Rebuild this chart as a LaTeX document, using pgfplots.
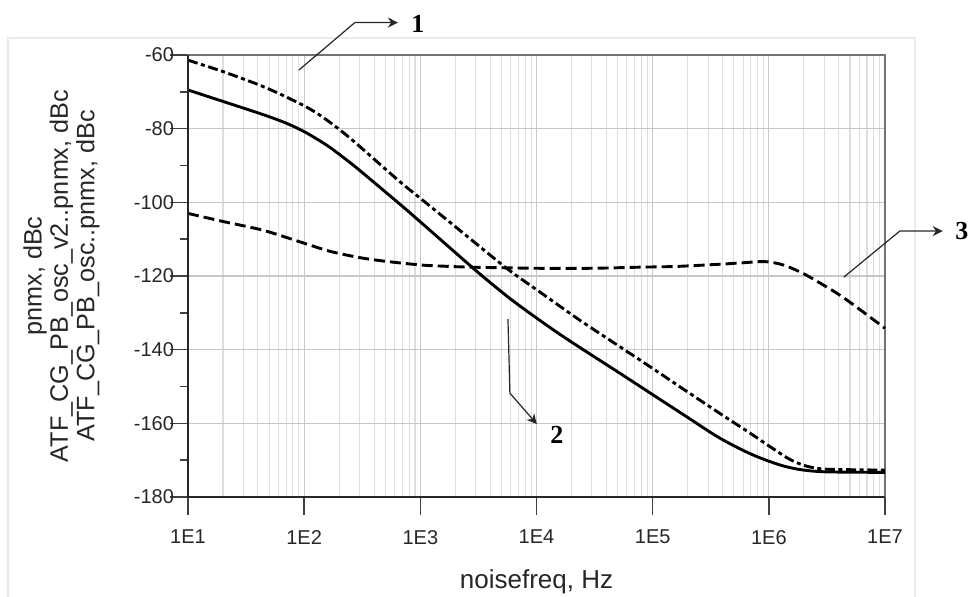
\documentclass[border=0pt]{standalone}
\usepackage{pgfplots}
\pgfplotsset{compat=1.18}
\usepackage{fontspec}
\setmainfont{Liberation Sans}
\newfontfamily\annfont{Liberation Serif}
\usetikzlibrary{arrows.meta}

\pgfplotstableread{
x y
10 -61.4
20 -64.5
40 -68.0
62 -70.6
100 -73.8
130 -75.9
167 -78.3
220 -81.2
300 -84.8
667 -94.4
1000 -98.9
2000 -106.6
5530 -117.9
10000 -123.7
23600 -132.0
52200 -139.2
100000 -145.1
196000 -151.3
400000 -157.8
700000 -162.8
1020000 -166.3
1500000 -169.7
2000000 -171.4
2600000 -172.2
3500000 -172.5
10000000 -172.7
}\curveone

\pgfplotstableread{
x y
10 -69.5
20 -72.6
44.5 -76.2
70 -78.5
100 -80.8
130 -82.9
167 -85.1
230 -88.4
300 -91.3
667 -100.5
1000 -105.3
2760 -117.5
4000 -121.8
5900 -126.1
8000 -129.2
10000 -131.4
15000 -135.3
23600 -139.4
52200 -146.4
101000 -152.3
196000 -158.2
378000 -164.0
733000 -168.6
1420000 -171.8
2750000 -173.1
10000000 -173.3
}\curvetwo

\pgfplotstableread{
x y
10 -103.0
20 -105.2
44.5 -107.6
100 -111.1
167 -113.3
300 -115.0
500 -116.0
1000 -117.0
1500 -117.3
2760 -117.6
10000 -117.9
30000 -117.9
78000 -117.6
160000 -117.4
380000 -116.8
600000 -116.4
930000 -116.1
1330000 -117.0
1970000 -119.3
2930000 -122.4
4500000 -126.1
10000000 -134.2
}\curvethree

\begin{document}
\begin{tikzpicture}
\useasboundingbox (-94pt,-49.5pt) rectangle (392.5pt,248.5pt);
\draw[black!8, line width=0.6pt] (-90pt,-60pt) -- (-90pt,229.5pt) -- (363.5pt,229.5pt) -- (363.5pt,-60pt);
\begin{axis}[
  at={(0pt,0pt)}, anchor=south west,
  scale only axis, width=348.5pt, height=221pt,
  xmode=log, xmin=10, xmax=1e7, ymin=-180, ymax=-60,
  xtick={10,100,1000,10000,100000,1000000,10000000},
  xticklabels={1E1,1E2,1E3,1E4,1E5,1E6,1E7},
  ytick={-180,-160,-140,-120,-100,-80,-60},
  yticklabels={-180,-160,-140,-120,-100,-80,-60},
  minor y tick num=0,
  extra y ticks={-170,-150,-130,-110,-90,-70},
  extra y tick labels={},
  extra y tick style={grid=none, major tick length=4pt},
  xmajorgrids, xminorgrids, ymajorgrids,
  major grid style={draw=black!22, line width=0.6pt},
  minor grid style={draw=black!13, line width=0.55pt},
  tick align=outside, major tick length=9pt, minor tick length=0pt,
  xtick pos=bottom, ytick pos=left,
  tick style={draw=black!75, line width=0.7pt},
  axis line style={draw=black!55, line width=0.8pt},
  ticklabel style={font=\fontsize{10}{12}\selectfont, text=black!85},
  xticklabel style={yshift=-4pt},
  yticklabel style={xshift=5.5pt},
  xlabel={noisefreq, Hz},
  xlabel style={font=\fontsize{13}{15}\selectfont, text=black!85, at={(axis description cs:0.5,-0.163)}, anchor=north, inner sep=0pt},
  ylabel={pnmx, dBc\\ATF\_CG\_PB\_osc\_v2..pnmx, dBc\\ATF\_CG\_PB\_osc..pnmx, dBc},
  ylabel style={align=center, font=\fontsize{12.6}{13.2}\selectfont, text=black!85, at={(axis description cs:-0.1263,0.5)}, anchor=south, inner sep=0pt},
  clip=false,
]
\addplot[black, line width=1.45pt, smooth, tension=0.5, dash pattern=on 5pt off 1.8pt on 2pt off 1.8pt] table[x=x,y=y] {\curveone};
\addplot[black, line width=1.45pt, smooth, tension=0.5] table[x=x,y=y] {\curvetwo};
\addplot[black, line width=1.45pt, smooth, tension=0.5, dash pattern=on 5.5pt off 2.5pt] table[x=x,y=y] {\curvethree};

\draw[black!85, line width=0.9pt] (rel axis cs:0,1) -- (rel axis cs:0,0) -- (rel axis cs:1,0);

\draw[black!85, line width=0.6pt, -{Stealth[length=5pt,width=5pt]}] (axis cs:90,-64.1) -- (axis cs:273,-51.2) -- (axis cs:641,-51.2);
\node[font=\annfont\bfseries\fontsize{13}{13}\selectfont, inner sep=0pt] at (axis cs:953,-51.6) {1};

\draw[black!85, line width=0.6pt, -{Stealth[length=5pt,width=5pt]}] (axis cs:5680,-131.7) -- (axis cs:5900,-151.8) -- (axis cs:10070,-160.2);
\node[font=\annfont\bfseries\fontsize{13}{13}\selectfont, inner sep=0pt] at (axis cs:15000,-163.2) {2};

\draw[black!85, line width=0.6pt, -{Stealth[length=5pt,width=5pt]}] (axis cs:4.42e6,-120.3) -- (axis cs:1.34e7,-107.8) -- (axis cs:3.14e7,-107.8);
\node[font=\annfont\bfseries\fontsize{13}{13}\selectfont, inner sep=0pt] at (axis cs:4.58e7,-107.9) {3};
\end{axis}
\end{tikzpicture}
\end{document}
